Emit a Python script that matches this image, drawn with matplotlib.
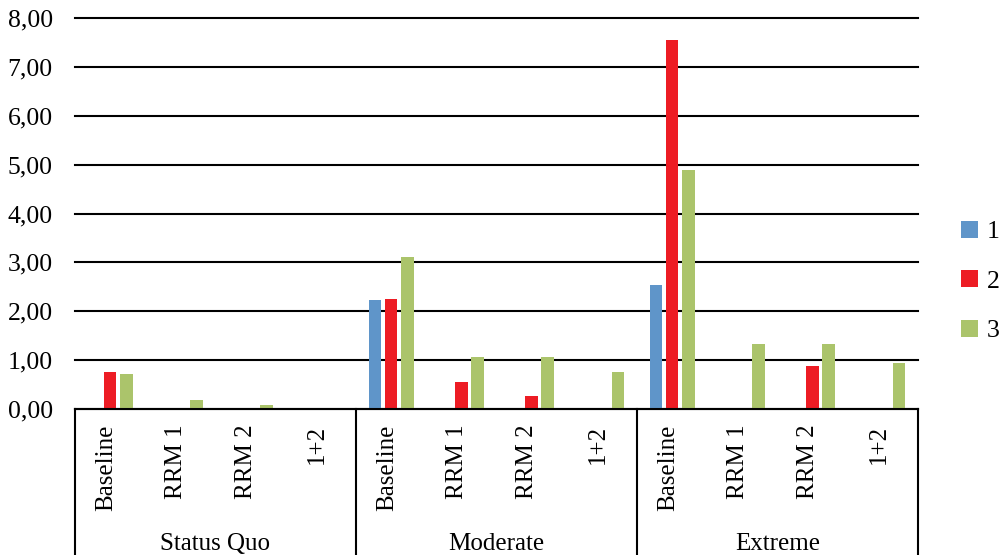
import matplotlib
matplotlib.use("Agg")
import matplotlib.pyplot as plt
import numpy as np

plt.rcParams['font.family'] = ['Liberation Serif', 'DejaVu Serif']

# scenario groups and measures along the x axis
groups = ['Status Quo', 'Moderate', 'Extreme']
measures = ['Baseline', 'RRM 1', 'RRM 2', '1+2']

# one value per group/measure, in order
series_1 = [0.00, 0.00, 0.00, 0.00, 2.23, 0.00, 0.00, 0.00, 2.54, 0.00, 0.00, 0.00]
series_2 = [0.75, 0.00, 0.00, 0.00, 2.25, 0.56, 0.26, 0.00, 7.56, 0.00, 0.87, 0.00]
series_3 = [0.72, 0.18, 0.08, 0.00, 3.11, 1.07, 1.07, 0.76, 4.89, 1.33, 1.33, 0.94]
series_names = ['1', '2', '3']
colors = ['#5f95c9', '#ed1c24', '#abc46b']

yticks = [0, 1, 2, 3, 4, 5, 6, 7, 8]

fig = plt.figure(figsize=(10.02, 5.55), dpi=100)
ax = fig.add_axes([75/1002, 146/555, 843/1002, 391/555])

x = np.arange(len(series_1))
w = 0.18
step = 0.23
for k, vals in enumerate([series_1, series_2, series_3]):
    ax.bar(x + (k - 1)*step, vals, width=w, color=colors[k], label=series_names[k], zorder=3)

ax.set_xlim(-0.5, len(x) - 0.5)
ax.set_ylim(0, 8)
ax.set_yticks(yticks)
ax.set_yticklabels([f"{v:.2f}".replace('.', ',') for v in yticks], fontsize=18.5)
ax.tick_params(axis='y', length=0, pad=16)
ax.set_xticks([])
ax.grid(axis='y', color='black', linewidth=1.5, zorder=1)
for gl in ax.get_ygridlines():
    gl.set_clip_on(False)
for s in ['top', 'right', 'left']:
    ax.spines[s].set_visible(False)
ax.spines['bottom'].set_linewidth(1.5)
ax.spines['bottom'].set_zorder(4)

# category box under the axis
tr = ax.get_xaxis_transform()
for b in [-0.5, 3.5, 7.5, 11.5]:
    ax.plot([b, b], [0, -0.5], color='black', lw=1.5, transform=tr, clip_on=False)

for i in x:
    ax.text(i - 0.06, -0.04, measures[i % 4], rotation=90, ha='center', va='top',
            fontsize=18, transform=tr)
for g, name in enumerate(groups):
    ax.text(4*g + 1.5, -0.318, name, ha='center', va='top', fontsize=18, transform=tr)

leg = fig.legend(loc='center left', bbox_to_anchor=(961/1002, 0.493), frameon=False,
                 fontsize=18.5, handlelength=0.65, handleheight=0.65, handletextpad=0.35,
                 labelspacing=1.05, borderpad=0, borderaxespad=0)

fig.savefig('out.png', dpi=100)
